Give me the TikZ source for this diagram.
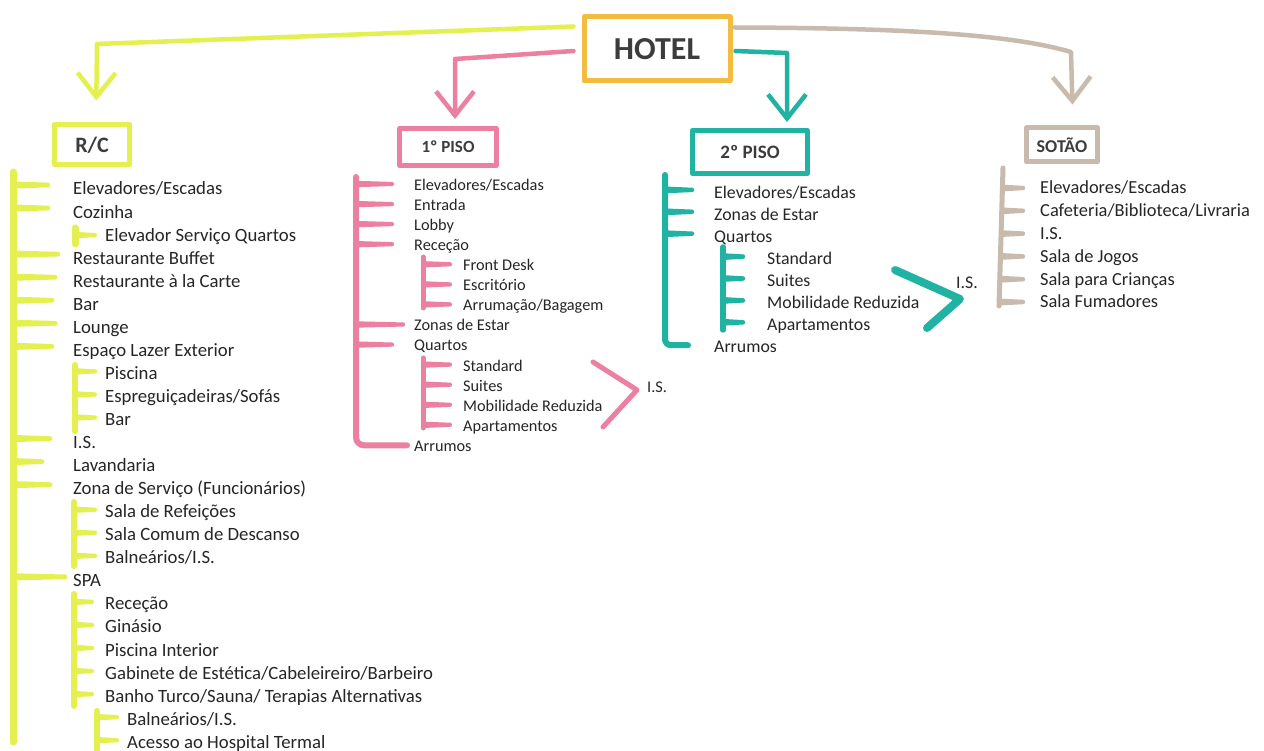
\documentclass[tikz,border=0pt]{standalone}
\usepackage{fontspec}
\setmainfont{Carlito}
\usetikzlibrary{arrows.meta,calc}
\definecolor{ycol}{RGB}{228,240,80}
\definecolor{pcol}{RGB}{235,128,160}
\definecolor{tcol}{RGB}{32,178,162}
\definecolor{gcol}{RGB}{200,186,172}
\definecolor{hcol}{RGB}{242,188,62}
\definecolor{txt}{RGB}{38,38,38}
\newcommand\fRC{\fontsize{18.75pt}{22pt}\selectfont}
\newcommand\fPa{\fontsize{16.3pt}{20pt}\selectfont}
\newcommand\fPb{\fontsize{17.8pt}{21pt}\selectfont}
\newcommand\fSo{\fontsize{18.4pt}{21pt}\selectfont}
% tapered tick: colour, node, spine coordinate, gap to text, raise above baseline, half width
\newcommand\tk[6]{%
  \path ($(#2.base west -| #3)+(0,-#5)$) coordinate (tkA) ($(#2.base west)+(-#4,-#5)$) coordinate (tkB);
  \fill[#1] ($(tkA)+(0,-#6)$) -- ($(tkB)+(0,{-0.65*#6})$) -- ($(tkB)+(0,{0.65*#6})$) -- ($(tkA)+(0,#6)$) -- cycle;
  \fill[#1] (tkB) circle[radius={0.65*#6}];}
\begin{document}
\begin{tikzpicture}[x=1pt,y=-1pt,
  itm/.style={anchor=base west, inner sep=0pt, text=txt},
  rci/.style={itm, font=\fRC},
  pai/.style={itm, font=\fPa},
  pbi/.style={itm, font=\fPb},
  soi/.style={itm, font=\fSo},
  box/.style={draw, line width=5pt, line join=round, inner sep=0pt, text=txt!90!white},
  arr/.style={line width=4.5pt, line cap=round, line join=round, -{Straight Barb[length=24pt,width=38pt]}},
  ysp/.style={draw=ycol, line width=6pt, line cap=round},
  psp/.style={draw=pcol, line width=5pt, line cap=round},
  tsp/.style={draw=tcol, line width=5.5pt, line cap=round},
  gsp/.style={draw=gcol, line width=5pt, line cap=round}]
\useasboundingbox[fill=white] (0,0) rectangle (1264,751);

% ---------- boxes ----------
\node[box, draw=hcol, minimum width=146pt, minimum height=64pt, font=\bfseries\fontsize{32pt}{36pt}\selectfont] (hotel) at (657,49) {HOTEL};
\node[box, draw=ycol, minimum width=75pt, minimum height=40pt, font=\bfseries\fontsize{22pt}{24pt}\selectfont] (rc) at (92,145) {R/C};
\node[box, draw=pcol, minimum width=97pt, minimum height=37pt, font=\bfseries\fontsize{17pt}{20pt}\selectfont] (p1box) at (448,147) {1º PISO};
\node[box, draw=tcol, minimum width=115pt, minimum height=43pt, font=\bfseries\fontsize{19pt}{22pt}\selectfont] (p2box) at (750,152) {2º PISO};
\node[box, draw=gcol, minimum width=71pt, minimum height=34pt, font=\bfseries\fontsize{18pt}{21pt}\selectfont] (sbox) at (1062,145) {SOTÃO};

% ---------- arrows ----------
\coordinate (yc1) at (97,44);
\coordinate (pc1) at (455,59);
\coordinate (tc1) at (787,53);
\coordinate (gc1) at (1071,52);
\draw[arr, draw=ycol, shorten >=22pt] ([xshift=-8pt,yshift=-12pt]hotel.north west) -- (yc1) -- ([xshift=4pt]rc.north);
\draw[arr, draw=pcol, shorten >=7pt] ([xshift=-8pt,yshift=-2pt]hotel.west) -- (pc1) -- (pc1 |- p1box.north);
\draw[arr, draw=tcol, shorten >=6pt] ([xshift=3pt,yshift=-2pt]hotel.east) -- (tc1) -- (tc1 |- p2box.north);
\draw[arr, draw=gcol, shorten >=21pt] ([xshift=2pt,yshift=-13pt]hotel.north east) .. controls (900,28) and (1010,34) .. (gc1) -- ([xshift=11pt]sbox.north);

% ---------- R/C ----------
\node[rci] (r0) at (73,195.0) {Elevadores/Escadas};
\node[rci] (r1) at (73,218.05) {Cozinha};
\node[rci] (r2) at (105,241.1) {Elevador Serviço Quartos};
\node[rci] (r3) at (73,264.15) {Restaurante Buffet};
\node[rci] (r4) at (73,287.2) {Restaurante à la Carte};
\node[rci] (r5) at (73,310.25) {Bar};
\node[rci] (r6) at (73,333.3) {Lounge};
\node[rci] (r7) at (73,356.35) {Espaço Lazer Exterior};
\node[rci] (r8) at (105,379.4) {Piscina};
\node[rci] (r9) at (105,402.45) {Espreguiçadeiras/Sofás};
\node[rci] (r10) at (105,425.5) {Bar};
\node[rci] (r11) at (73,448.55) {I.S.};
\node[rci] (r12) at (73,471.6) {Lavandaria};
\node[rci] (r13) at (73,494.65) {Zona de Serviço (Funcionários)};
\node[rci] (r14) at (105,517.7) {Sala de Refeições};
\node[rci] (r15) at (105,540.75) {Sala Comum de Descanso};
\node[rci] (r16) at (105,563.8) {Balneários/I.S.};
\node[rci] (r17) at (73,586.85) {SPA};
\node[rci] (r18) at (105,609.9) {Receção};
\node[rci] (r19) at (105,632.95) {Ginásio};
\node[rci] (r20) at (105,656.0) {Piscina Interior};
\node[rci] (r21) at (105,679.05) {Gabinete de Estética/Cabeleireiro/Barbeiro};
\node[rci] (r22) at (105,702.1) {Banho Turco/Sauna/ Terapias Alternativas};
\node[rci] (r23) at (127,725.15) {Balneários/I.S.};
\node[rci] (r24) at (127,748.2) {Acesso ao Hospital Termal};

\coordinate (rcs) at (13,172);
\draw[ysp, line width=7pt] (rcs) -- (13,742);
\tk{ycol}{r0}{rcs}{25}{10}{3.6}
\tk{ycol}{r1}{rcs}{25}{10}{3.6}
\tk{ycol}{r3}{rcs}{15}{10}{3.6}
\tk{ycol}{r4}{rcs}{18}{10}{3.6}
\tk{ycol}{r5}{rcs}{21}{10}{3.6}
\tk{ycol}{r6}{rcs}{18}{10}{3.6}
\tk{ycol}{r7}{rcs}{21}{10}{3.6}
\tk{ycol}{r11}{rcs}{23}{10}{3.6}
\tk{ycol}{r12}{rcs}{31}{10}{3.6}
\tk{ycol}{r13}{rcs}{23}{10}{3.6}
\tk{ycol}{r17}{rcs}{8}{10}{3.6}

\coordinate (rb1) at (75,228);
\draw[ysp, line width=7pt] (rb1) -- (75,244);
\tk{ycol}{r2}{rb1}{10}{6}{3.2}
\coordinate (rb2) at (75,365);
\draw[ysp] (rb2) -- (75,431);
\tk{ycol}{r8}{rb2}{10}{8}{3.2}
\tk{ycol}{r9}{rb2}{10}{8}{3.2}
\tk{ycol}{r10}{rb2}{10}{8}{3.2}
\coordinate (rb3) at (74,502);
\draw[ysp] (rb3) -- (74,566);
\tk{ycol}{r14}{rb3}{10}{8}{3.2}
\tk{ycol}{r15}{rb3}{10}{8}{3.2}
\tk{ycol}{r16}{rb3}{10}{8}{3.2}
\coordinate (rb4) at (74,594);
\draw[ysp] (rb4) -- (74,706);
\tk{ycol}{r18}{rb4}{13}{8}{3.2}
\tk{ycol}{r19}{rb4}{13}{8}{3.2}
\tk{ycol}{r20}{rb4}{13}{8}{3.2}
\tk{ycol}{r21}{rb4}{13}{8}{3.2}
\tk{ycol}{r22}{rb4}{13}{8}{3.2}
\coordinate (rb5) at (97,711);
\draw[ysp] (rb5) -- (97,751);
\tk{ycol}{r23}{rb5}{10}{8}{3.2}
\tk{ycol}{r24}{rb5}{10}{8}{3.2}

% ---------- 1o PISO ----------
\node[pai] (p0) at (414,190.4) {Elevadores/Escadas};
\node[pai] (p1) at (414,210.5) {Entrada};
\node[pai] (p2) at (414,230.5) {Lobby};
\node[pai] (p3) at (414,250.6) {Receção};
\node[pai] (p4) at (463,270.7) {Front Desk};
\node[pai] (p5) at (463,290.8) {Escritório};
\node[pai] (p6) at (463,310.8) {Arrumação/Bagagem};
\node[pai] (p7) at (414,330.9) {Zonas de Estar};
\node[pai] (p8) at (414,351.0) {Quartos};
\node[pai] (p9) at (463,371.0) {Standard};
\node[pai] (p10) at (463,391.1) {Suites};
\node[pai] (p11) at (463,411.2) {Mobilidade Reduzida};
\node[pai] (p12) at (463,431.2) {Apartamentos};
\node[pai] (p13) at (414,451.3) {Arrumos};
\node[pai] (pis) at (647,392.4) {I.S.};

\coordinate (ps) at (356,177);
\draw[psp, line width=6pt, rounded corners=8pt] (ps) -- ($(p13.base west -| ps)+(0,-6)$) -- ($(p13.base west)+(-7,-6)$);
\tk{pcol}{p0}{ps}{22}{6.4}{3.2}
\tk{pcol}{p1}{ps}{22}{6.4}{3.2}
\tk{pcol}{p2}{ps}{22}{6.4}{3.2}
\tk{pcol}{p3}{ps}{22}{6.4}{3.2}
\tk{pcol}{p7}{ps}{11}{6.4}{3.2}
\tk{pcol}{p8}{ps}{22}{6.4}{3.2}
\coordinate (pb1) at (423,257);
\draw[psp] (pb1) -- (423,308);
\tk{pcol}{p4}{pb1}{13}{6.4}{3.2}
\tk{pcol}{p5}{pb1}{13}{6.4}{3.2}
\tk{pcol}{p6}{pb1}{13}{6.4}{3.2}
\coordinate (pb2) at (423,358);
\draw[psp] (pb2) -- (423,428);
\tk{pcol}{p9}{pb2}{13}{6.4}{3.2}
\tk{pcol}{p10}{pb2}{13}{6.4}{3.2}
\tk{pcol}{p11}{pb2}{13}{6.4}{3.2}
\tk{pcol}{p12}{pb2}{13}{6.4}{3.2}
\coordinate (pv0) at (593,362);
\coordinate (pv1) at (637,390);
\coordinate (pv2) at (603,427);
\draw[psp, line join=round] (pv0) -- (pv1) -- (pv2);

% ---------- 2o PISO ----------
\node[pbi] (q0) at (714,198.9) {Elevadores/Escadas};
\node[pbi] (q1) at (714,220.8) {Zonas de Estar};
\node[pbi] (q2) at (714,242.7) {Quartos};
\node[pbi] (q3) at (767,264.6) {Standard};
\node[pbi] (q4) at (767,286.5) {Suites};
\node[pbi] (q5) at (767,308.4) {Mobilidade Reduzida};
\node[pbi] (q6) at (767,330.3) {Apartamentos};
\node[pbi] (q7) at (714,352.2) {Arrumos};
\node[pbi] (qis) at (956,289) {I.S.};

\coordinate (qs) at (665,175);
\draw[tsp, line width=6pt, rounded corners=6pt] (qs) -- ($(q7.base west -| qs)+(0,-7)$) -- ($(q7.base west)+(-26,-7)$);
\tk{tcol}{q0}{qs}{22}{9}{3.4}
\tk{tcol}{q1}{qs}{22}{9}{3.4}
\tk{tcol}{q2}{qs}{22}{9}{3.4}
\coordinate (qb1) at (723,247);
\draw[tsp] (qb1) -- (723,330);
\tk{tcol}{q3}{qb1}{24}{8}{3.4}
\tk{tcol}{q4}{qb1}{24}{8}{3.4}
\tk{tcol}{q5}{qb1}{24}{8}{3.4}
\tk{tcol}{q6}{qb1}{24}{8}{3.4}
\coordinate (qv0) at (895,270);
\coordinate (qv1) at (960,299);
\coordinate (qv2) at (927,328);
\draw[tsp, line width=8pt, line join=round] (qv0) -- (qv1) -- (qv2);

% ---------- SOTAO ----------
\node[soi] (s0) at (1040,194) {Elevadores/Escadas};
\node[soi] (s1) at (1040,216.8) {Cafeteria/Biblioteca/Livraria};
\node[soi] (s2) at (1040,239.6) {I.S.};
\node[soi] (s3) at (1040,262.4) {Sala de Jogos};
\node[soi] (s4) at (1040,285.2) {Sala para Crianças};
\node[soi] (s5) at (1040,308) {Sala Fumadores};
\coordinate (ss) at (1001,168);
\draw[gsp] (1003,168) -- (999,306);
\tk{gcol}{s0}{ss}{17}{6}{3.4}
\tk{gcol}{s1}{ss}{17}{6}{3.4}
\tk{gcol}{s2}{ss}{17}{6}{3.4}
\tk{gcol}{s3}{ss}{17}{6}{3.4}
\tk{gcol}{s4}{ss}{17}{6}{3.4}
\tk{gcol}{s5}{ss}{17}{6}{3.4}
\end{tikzpicture}
\end{document}
